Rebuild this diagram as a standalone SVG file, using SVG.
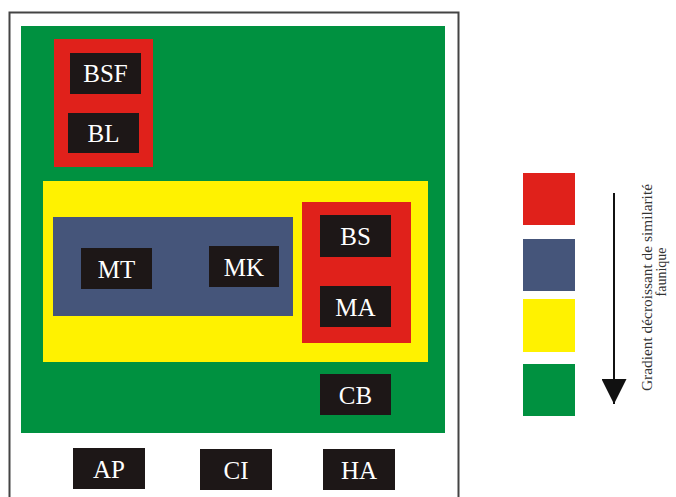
<svg xmlns="http://www.w3.org/2000/svg" width="676" height="497" viewBox="0 0 676 497">
<style>
.lbl{fill:#1d1717}
.t{font-family:"Liberation Serif","Times New Roman",serif;font-size:25px;fill:#ffffff;text-anchor:middle}
.lg{font-family:"Liberation Serif","Times New Roman",serif;font-size:14px;fill:#333333;text-anchor:middle}
</style>
<defs>
<marker id="ah" viewBox="0 0 10 10" refX="10" refY="5" markerWidth="25" markerHeight="25" markerUnits="userSpaceOnUse" orient="auto">
<path d="M0,0 L10,5 L0,10 Z" fill="#111"/>
</marker>
</defs>
<rect width="676" height="497" fill="#ffffff"/>
<path d="M9.5 500 V12.5 H458.5 V500" fill="none" stroke="#444" stroke-width="2"/>
<g id="zones">
<rect x="21" y="26" width="424" height="407" fill="#009140"/>
<rect x="54" y="39" width="99" height="128" fill="#e0211b"/>
<rect x="43" y="181" width="385" height="181" fill="#fff200"/>
<rect x="53" y="217" width="240" height="99" fill="#45557a"/>
<rect x="302" y="202" width="109" height="141" fill="#e0211b"/>
</g>
<g id="BSF"><rect class="lbl" x="70" y="53" width="71" height="41"/><text class="t" x="105.5" y="82">BSF</text></g>
<g id="BL"><rect class="lbl" x="68" y="113" width="71" height="40"/><text class="t" x="103.5" y="141.5">BL</text></g>
<g id="MT"><rect class="lbl" x="81" y="248" width="71" height="41"/><text class="t" x="116.5" y="277.5">MT</text></g>
<g id="MK"><rect class="lbl" x="209" y="246" width="70" height="41"/><text class="t" x="244" y="275.5">MK</text></g>
<g id="BS"><rect class="lbl" x="320" y="215" width="71" height="42"/><text class="t" x="355.5" y="244.5">BS</text></g>
<g id="MA"><rect class="lbl" x="320" y="286" width="71" height="41"/><text class="t" x="355.5" y="315.5">MA</text></g>
<g id="CB"><rect class="lbl" x="320" y="374" width="71" height="41"/><text class="t" x="355.5" y="403.5">CB</text></g>
<g id="AP"><rect class="lbl" x="73" y="448" width="72" height="41"/><text class="t" x="109" y="477.5">AP</text></g>
<g id="CI"><rect class="lbl" x="200" y="449" width="72" height="41"/><text class="t" x="236" y="478.5">CI</text></g>
<g id="HA"><rect class="lbl" x="323" y="449" width="72" height="41"/><text class="t" x="359" y="478.5">HA</text></g>
<g id="legend">
<rect x="523" y="173" width="52" height="52" fill="#e0211b"/>
<rect x="523" y="239" width="52" height="52" fill="#45557a"/>
<rect x="523" y="299" width="52" height="53" fill="#fff200"/>
<rect x="523" y="364" width="52" height="52" fill="#009140"/>
</g>
<g id="connectors">
<line x1="614" y1="193" x2="614" y2="404" stroke="#111" stroke-width="2" marker-end="url(#ah)"/>
</g>
<g id="legend-text">
<text class="lg" transform="translate(651.5,287.5) rotate(-90)" textLength="207" lengthAdjust="spacingAndGlyphs">Gradient décroissant de similarité</text>
<text class="lg" transform="translate(666,272) rotate(-90)">faunique</text>
</g>
</svg>
